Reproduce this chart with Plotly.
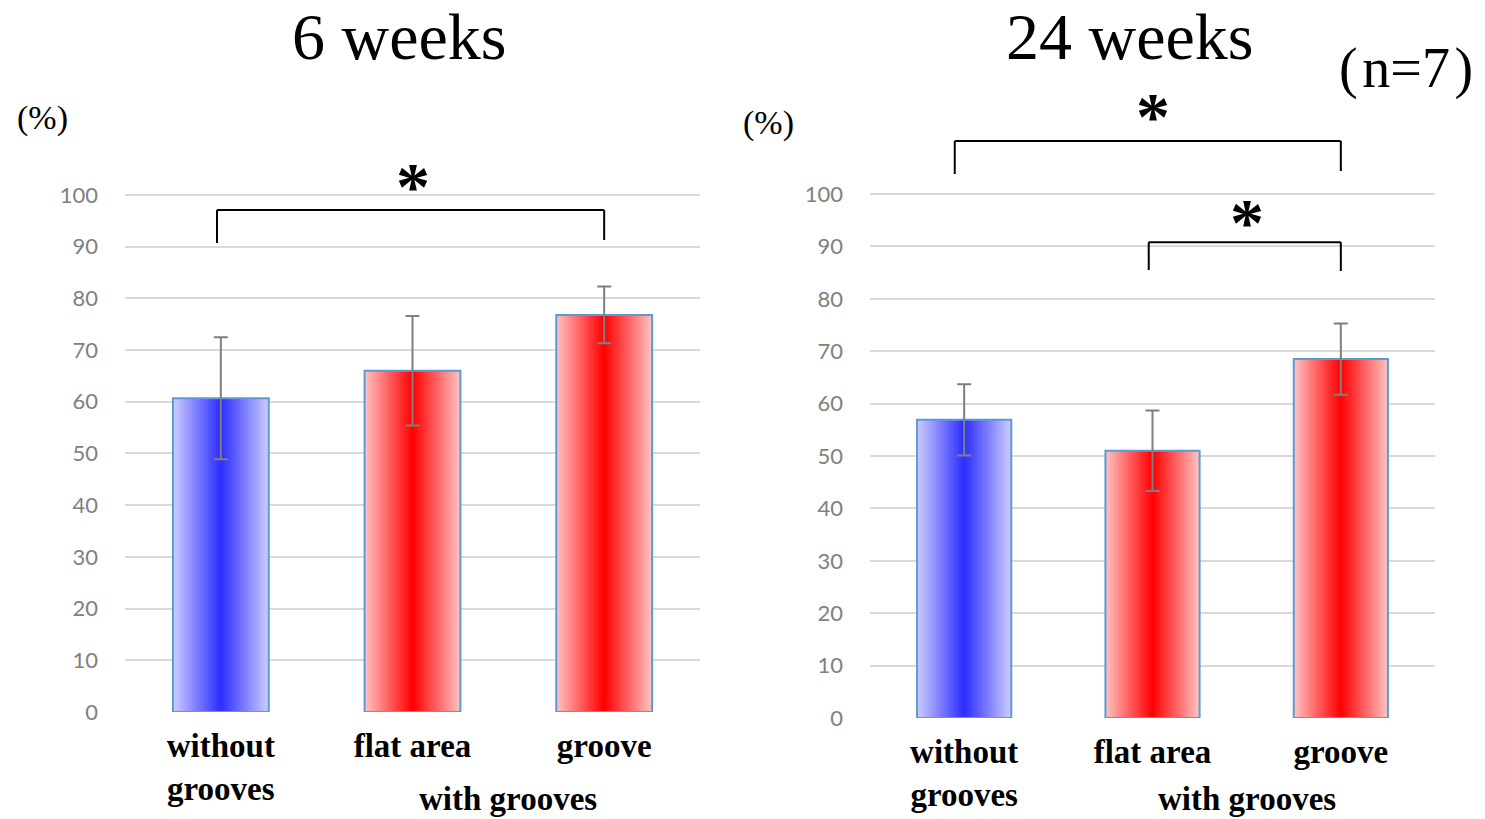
import plotly.graph_objects as go

# ---------------- data ----------------
categories = ["without<br>grooves", "flat area", "groove"]
weeks6_mean = [60.7, 66.0, 76.8]
weeks6_sd = [11.8, 10.6, 5.5]
weeks24_mean = [56.9, 51.0, 68.5]
weeks24_sd = [6.8, 7.7, 6.8]
y_ticks = [0, 10, 20, 30, 40, 50, 60, 70, 80, 90, 100]
titles = ["6 weeks", "24 weeks"]

# ---------------- style ----------------
CENTER = [(45, 45, 255), (255, 0, 0), (255, 0, 0)]
EDGE = [(205, 205, 255), (255, 195, 195), (255, 195, 195)]
BAR_W = 0.5
N_LAYERS = 30
GRID = "#d9d9d9"
TICK_GREY = "#808080"
OUTLINE = "#5b9bd5"

# page has an 8px body margin: figure occupies viewport pixels 8..1485, 8..819
OFF = 8
W, H = 1485 - OFF, 819 - OFF


def fx(px):
    return (px - OFF) / W


def fy(py):
    return 1 - (py - OFF) / H


def mix(c, e, t):
    return "rgb(%d,%d,%d)" % tuple(round(c[i] + (e[i] - c[i]) * t) for i in range(3))


fig = go.Figure()


def add_panel(means, sds, xa, ya):
    # gradient: concentric overlaid bars, outermost palest
    for k in range(N_LAYERS):
        w = BAR_W * (N_LAYERS - k) / N_LAYERS
        t = (N_LAYERS - k - 0.5) / N_LAYERS
        cols = [mix(CENTER[i], EDGE[i], t) for i in range(len(means))]
        fig.add_trace(go.Bar(x=categories, y=means, width=w, xaxis=xa, yaxis=ya,
                             marker=dict(color=cols, line=dict(width=0)),
                             showlegend=False, hoverinfo="skip"))
    # outline + error bars
    fig.add_trace(go.Bar(x=categories, y=means, width=BAR_W, xaxis=xa, yaxis=ya,
                         marker=dict(color="rgba(0,0,0,0)", line=dict(color=OUTLINE, width=2)),
                         error_y=dict(type="data", array=sds, color="#7f7f7f", thickness=2, width=7),
                         showlegend=False))


add_panel(weeks6_mean, weeks6_sd, "x", "y")
add_panel(weeks24_mean, weeks24_sd, "x2", "y2")

xcommon = dict(type="category", showgrid=False, zeroline=False, showline=False, ticks="",
               automargin=False,
               tickfont=dict(family="Liberation Serif", size=33, color="black", weight="bold"),
               ticklabelstandoff=11)
ycommon = dict(tickvals=y_ticks, showgrid=True, gridcolor=GRID, gridwidth=1.5,
               zeroline=False, showline=False, ticks="", automargin=False,
               tickfont=dict(family="Lato, Liberation Sans", size=22, color=TICK_GREY),
               ticklabelstandoff=26)

fig.update_layout(
    width=W, height=H,
    margin=dict(l=0, r=0, t=0, b=0),
    paper_bgcolor="white", plot_bgcolor="white",
    barmode="overlay",
    xaxis=dict(domain=[fx(125), fx(700)], anchor="y", **xcommon),
    yaxis=dict(domain=[fy(712), fy(153.6)], range=[0, 108], anchor="x", **ycommon),
    xaxis2=dict(domain=[fx(870), fx(1435)], anchor="y2", **xcommon),
    yaxis2=dict(domain=[fy(718), fy(89.2)], range=[0, 120], anchor="x2", **ycommon),
)

# significance brackets (data coordinates)
def bracket(xref, yref, x0, x1, ytop, yl, yr):
    line = dict(color="black", width=2)
    fig.add_shape(type="line", xref=xref, yref=yref, x0=x0, x1=x1, y0=ytop, y1=ytop, line=line)
    fig.add_shape(type="line", xref=xref, yref=yref, x0=x0, x1=x0, y0=ytop, y1=yl, line=line)
    fig.add_shape(type="line", xref=xref, yref=yref, x0=x1, x1=x1, y0=ytop, y1=yr, line=line)


bracket("x", "y", -0.02, 2.0, 97.1, 90.7, 91.3)
bracket("x2", "y2", -0.05, 2.0, 110.1, 103.8, 104.4)
bracket("x2", "y2", -0.02 + 1, 2.0, 90.8, 85.5, 85.3)

star_font = dict(family="Liberation Serif", size=68, color="black")
for xr, yr, xv, yv in [("x", "y", 1.0, 103.3), ("x2", "y2", 1.0, 116.4), ("x2", "y2", 1.5, 96.2)]:
    fig.add_annotation(xref=xr, yref=yr, x=xv, y=yv, text="<b>*</b>", showarrow=False,
                       font=star_font, yanchor="middle", yshift=-8)

# "with grooves" group labels
for xr in ["x", "x2"]:
    fig.add_annotation(xref=xr, yref="paper", x=1.5, y=fy(799), text="<b>with grooves</b>",
                       showarrow=False, yanchor="middle", xanchor="center",
                       font=dict(family="Liberation Serif", size=33, color="black"))

# titles and units
serif = "Liberation Serif"
def label(x, y, text, size, family=serif):
    fig.add_annotation(xref="paper", yref="paper", x=fx(x), y=fy(y), text=text,
                       showarrow=False, xanchor="center", yanchor="middle",
                       font=dict(family=family, size=size, color="black"))

label(399, 37, titles[0], 66)
label(1129, 37, titles[1], 66)
label(1406, 69, "(\u200an=7\u200a)", 56)
label(42, 118, "(%)", 34)
label(768, 123, "(%)", 34)

fig.write_html("out.html")
